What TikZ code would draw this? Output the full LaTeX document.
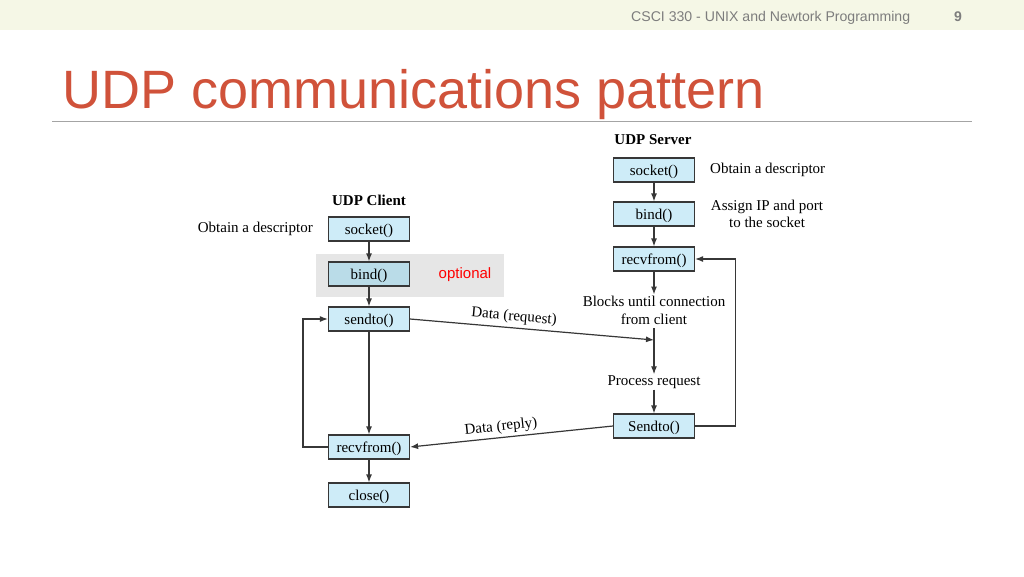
\documentclass[tikz,border=0pt]{standalone}
\usepackage{fontspec}
\setmainfont{Liberation Serif}
\newfontfamily\headfont{Liberation Sans}
\usetikzlibrary{arrows.meta,positioning}
\definecolor{boxblue}{RGB}{206,236,248}
\definecolor{bindblue}{RGB}{186,220,232}
\definecolor{titlered}{RGB}{208,82,58}
\definecolor{bandcol}{RGB}{245,247,230}
\definecolor{optgray}{RGB}{230,230,230}
\definecolor{linegray}{RGB}{55,55,55}
\definecolor{headgray}{RGB}{125,125,125}

\begin{document}
\begin{tikzpicture}[x=1pt,y=-1pt,
    callbox/.style={draw=linegray,fill=boxblue,line width=1.2pt,minimum width=81pt,
        minimum height=24pt,inner sep=0pt,text height=12.5pt,text depth=1pt,
        font=\fontsize{15}{18}\selectfont},
    note/.style={inner sep=1pt,font=\fontsize{15}{18}\selectfont},
    flow/.style={draw=linegray,line width=1.2pt,-{Latex[length=8pt,width=6pt]}}]
    \useasboundingbox (0,0) rectangle (1024,576);
    \fill[white] (0,0) rectangle (1024,576);

    % header and title
    \fill[bandcol] (0,0) rectangle (1024,30);
    \node[anchor=base west,inner sep=0pt,text=headgray,font=\headfont\fontsize{14.1}{16}\selectfont]
        (course) at (631,21) {CSCI 330 - UNIX and Newtork Programming};
    \node[anchor=base,inner sep=0pt,text=headgray,font=\headfont\bfseries\fontsize{14}{16}\selectfont]
        (pageno) at (958,21) {9};
    \node[anchor=base west,inner sep=0pt,text=titlered,font=\headfont\fontsize{54}{60}\selectfont]
        (title) at (62,108) {UDP communications pattern};
    \draw[headgray!70,line width=0.8pt] (52,121) -- (972,121);

    % client
    \begin{scope}
        \fill[optgray] (316,254) rectangle (504,297);
        \node[font=\bfseries\fontsize{15}{18}\selectfont,inner sep=1pt] (client) at (369,200) {UDP Client};
        \node[callbox] (csock) at (369,229) {socket()};
        \node[callbox,fill=bindblue] (cbind) at (369,274) {bind()};
        \node[callbox] (csend) at (369,319) {sendto()};
        \node[callbox] (crecv) at (369,447) {recvfrom()};
        \node[callbox] (cclose) at (369,495) {close()};
        \node[note,anchor=east] (cdesc) at (314,229) {Obtain a descriptor};
        \node[inner sep=0pt,text=red,font=\headfont\fontsize{15}{18}\selectfont] (opt) at (465,275) {optional};
        \draw[flow] (csock) -- (cbind);
        \draw[flow] (cbind) -- (csend);
        \draw[flow] (csend) -- (crecv);
        \draw[flow] (crecv) -- (cclose);
        \draw[flow] (crecv.west) -- ++(-25,0) |- (csend.west);
    \end{scope}

    % server
    \begin{scope}
        \node[font=\bfseries\fontsize{15}{18}\selectfont,inner sep=1pt] (server) at (653,140) {UDP Server};
        \node[callbox] (ssock) at (654,170) {socket()};
        \node[callbox] (sbind) at (654,214) {bind()};
        \node[callbox] (srecv) at (654,259) {recvfrom()};
        \node[note,align=center] (blocks) at (654,310) {Blocks until connection\\from client};
        \node[note] (proc) at (654,382) {Process request};
        \node[callbox] (ssend) at (654,426) {Sendto()};
        \node[note,anchor=west] (sdesc) at (709,170) {Obtain a descriptor};
        \node[note,align=center,font=\fontsize{15}{17}\selectfont] (assign) at (767,214) {Assign IP and port\\to the socket};
        \coordinate (join) at (654,340);
        \draw[flow] (ssock) -- (sbind);
        \draw[flow] (sbind) -- (srecv);
        \draw[flow] (srecv) -- (blocks);
        \draw[flow,shorten <=3pt] (blocks) -- (proc);
        \draw[flow] (proc) -- (ssend);
        \draw[flow] (ssend.east) -- ++(40,0) |- (srecv.east);
    \end{scope}

    % data exchange
    \draw[flow] (csend.east) -- (join);
    \draw[flow] (ssend.west) -- (crecv.east);
    \node[note,rotate=-5] (req) at (514,317) {Data (request)};
    \node[note,rotate=6] (rep) at (501,427) {Data (reply)};
\end{tikzpicture}
\end{document}
